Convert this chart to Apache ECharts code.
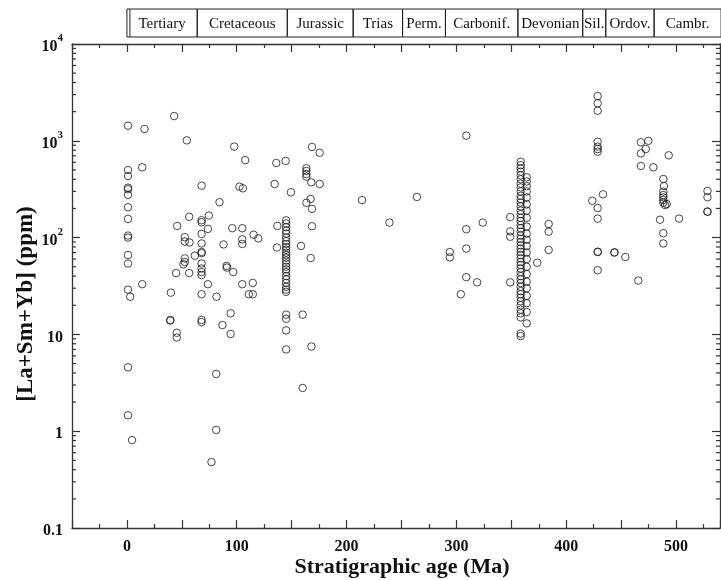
<!DOCTYPE html>
<html>
<head>
<meta charset="utf-8">
<script src="https://cdn.jsdelivr.net/npm/echarts@6/dist/echarts.min.js"></script>
<style>
  html, body { margin: 0; padding: 0; background: #ffffff; }
  #chart { width: 721px; height: 580px; }
</style>
</head>
<body>
<div id="chart"></div>
<script>
// [stratigraphic age (Ma), La+Sm+Yb (ppm)] grouped by period
const tertiary = [
  [1,1432],[1,499],[1,433],[1,328],[1,316],[1,276],[1,206],[1,156],[1,105],[1,100],
  [1,66],[1,54],[1,29],[3,24.5],[1,4.57],[1,1.46],[4.7,0.81],
  [16,1325],[43,1800],[54.5,1010],[13.9,532],[13.9,33],[40,27],[39.4,13.9],[39.6,14.1],
  [45.4,10.4],[45.4,9.3],[45.8,132],[56.7,164],[52.7,101],[52.7,91],[57,89],
  [52.7,61],[52.7,56],[51.5,53],[44.8,43],[56.7,43],[61.8,65]
];
const cretaceous = [
  [97.7,871],[107.7,631],[68,344],[102.5,336],[105.6,323],[84.3,232],[68,151],[68,144],
  [74.6,169],[73.7,123],[95.9,125],[105,125],[68,109],[68,87],[105,96],[105,86],[88,85],
  [68,71],[68,69],[68,54],[68,48],[68,44],[68,41],[90.8,51],[91,49],[96.8,44],[73.7,33],
  [81.6,24.5],[105,33],[111,26],[68,26],[68,14.1],[68,13.4],[94.4,16.5],[87,12.5],
  [94.4,10.1],[81.3,3.9],[81.3,1.03],[77,0.48],[115.3,107],[119.6,98],[114.6,34],
  [114.6,26],[136,590],[134.5,358],[137,132],[136.6,79]
];
const jurassic = [
  [144.5,620],[149.3,294],[168.5,863],[175.5,753],[163.4,520],[163.4,488],[163.4,454],
  [163.4,426],[167.9,372],[175.5,358],[167.3,251],[163.4,229],[168.5,198],[168.5,131],
  [158.5,82],[167.3,61.5],
  [145,151],[145,140],[145,128],[145,118],[145,110],[145,100],[145,92],[145,86],[145,80],
  [145,75],[145,70],[145,66],[145,62],[145,58],[145,54],[145,50],[145,47],[145,44],
  [145,40],[145,37],[145,34],[145,31],[145,29],[145,27.5],[145,16],[145,14.5],[145,11],
  [145,7],[160,16],[160,2.8],[168,7.5]
];
const trias = [[214,244],[239,143],[264,263]];
const carboniferous = [
  [309,1130],[294,71],[294,62.5],[309,122],[324,143],[309,77],[309,39],[318.9,34.5],
  [304,26],[349,163],[349,116],[349,102],[349,34.5]
];
const devonian = [
  [358.5,608],[358.5,560],[358.5,520],[358.5,480],[358.5,440],[358.5,400],[358.5,360],
  [358.5,330],[358.5,300],[358.5,270],[358.5,250],[358.5,230],[358.5,210],[358.5,190],
  [358.5,175],[358.5,160],[358.5,148],[358.5,135],[358.5,125],[358.5,115],[358.5,105],
  [358.5,97],[358.5,90],[358.5,83],[358.5,77],[358.5,71],[358.5,66],[358.5,61],[358.5,56],
  [358.5,52],[358.5,48],[358.5,44],[358.5,40],[358.5,37],[358.5,34],[358.5,31],[358.5,28],
  [358.5,26],[358.5,24],[358.5,22],[358.5,20],[358.5,18],[358.5,16.5],[358.5,15],
  [358.5,10.2],[358.5,9.6],
  [364,420],[364,380],[364,340],[364,300],[364,260],[364,220],[364,190],[364,160],
  [364,130],[364,110],[364,95],[364,82],[364,70],[364,60],[364,50],[364,42],[364,35],
  [364,30],[364,25],[364,21],[364,17],[364,13],
  [373.6,55],[384,138],[384,115],[384,74.5]
];
const silurian = [
  [428.6,2900],[428.6,2440],[428.6,2045],[428.6,977],[428.6,871],[428.6,822],[428.6,771],
  [423.7,240],[433.5,280],[428.6,202],[428.6,157],[428.6,71],[428.8,71.5],[428.6,46]
];
const ordovician = [
  [443.8,70],[444,70.5],[453.8,63],[465.6,36],[468,966],[474.8,1000],[472.4,822],[468,742],
  [493.3,708],[468,550],[479.3,532],[488.4,403],[489,341],[488.4,298],[488.4,275],
  [488.4,261],[488.4,244],[488.4,229],[490,217],[491.5,222],[485.4,153],[502.7,157],
  [488.4,111],[488.4,87]
];
const cambrian = [[528.6,303],[528.6,261],[528.6,185],[528.6,186]];

// Period header cells along the age axis
const periodNames = ['Tertiary','Cretaceous','Jurassic','Trias','Perm.','Carbonif.','Devonian','Sil.','Ordov.','Cambr.'];
const periodBounds = [0, 64, 146, 206, 251, 290, 356, 415, 436, 480, 541];

// Axis extents and labels
const xMin = -50, xMax = 540;
const xLabelValues = [0, 100, 200, 300, 400, 500];
const yMin = 0.1, yMax = 10000;

const allPoints = [].concat(tertiary, cretaceous, jurassic, trias, carboniferous,
  devonian, silurian, ordovician, cambrian);

// minor log ticks at 2..9 within each decade
const minorTicks = [];
for (let d = yMin; d < yMax; d *= 10) {
  for (let k = 2; k <= 9; k++) minorTicks.push([xMin, +(k * d).toPrecision(3)]);
}

const SERIF = '"Liberation Serif", "Times New Roman", serif';
const AXIS_COLOR = '#333333';

function yLabel(v) {
  const e = Math.round(Math.log10(v));
  if (e >= 2) return '{b|10}{s|' + e + '}';
  if (e === 1) return '{b|10}';
  if (e === 0) return '{b|1}';
  return '{b|0.1}';
}

const chart = echarts.init(document.getElementById('chart'), null, { renderer: 'canvas' });

const xAxisBase = {
  type: 'value', min: xMin, max: xMax, interval: 50,
  axisLine: { show: true, onZero: false, lineStyle: { color: AXIS_COLOR, width: 1.3 } },
  axisTick: { show: true, inside: true, length: 8, lineStyle: { color: AXIS_COLOR, width: 1.2 } },
  minorTick: { show: true, splitNumber: 2, length: 4, lineStyle: { color: AXIS_COLOR, width: 1.2 } },
  splitLine: { show: false }
};

const yAxisBase = {
  type: 'log', logBase: 10, min: yMin, max: yMax,
  axisLine: { show: true, onZero: false, lineStyle: { color: AXIS_COLOR, width: 1.3 } },
  axisTick: { show: true, inside: true, length: 8, lineStyle: { color: AXIS_COLOR, width: 1.2 } },
  splitLine: { show: false }
};

chart.setOption({
  animation: false,
  backgroundColor: '#ffffff',
  grid: { left: 72, top: 44, right: 1, bottom: 52 },
  xAxis: [
    Object.assign({}, xAxisBase, {
      position: 'bottom',
      axisLabel: {
        show: true, margin: 11, showMaxLabel: false,
        fontFamily: SERIF, fontWeight: 'bold', fontSize: 16, color: '#111',
        formatter: v => (xLabelValues.indexOf(v) >= 0 ? String(v) : '')
      }
    }),
    Object.assign({}, xAxisBase, { position: 'top', axisLabel: { show: false } })
  ],
  yAxis: [
    Object.assign({}, yAxisBase, {
      position: 'left',
      axisLabel: {
        show: true, margin: 9, formatter: yLabel,
        rich: {
          b: { fontFamily: SERIF, fontWeight: 'bold', fontSize: 16, color: '#111', lineHeight: 22, verticalAlign: 'bottom' },
          s: { fontFamily: SERIF, fontWeight: 'bold', fontSize: 11, color: '#111', lineHeight: 22, verticalAlign: 'top', padding: [0, 0, 6, 0] }
        }
      }
    }),
    Object.assign({}, yAxisBase, { position: 'right', axisLabel: { show: false } })
  ],
  graphic: [
    {
      type: 'text', x: 402, y: 567,
      style: { text: 'Stratigraphic age (Ma)', font: 'bold 22px ' + SERIF, fill: '#111', textAlign: 'center', textVerticalAlign: 'middle' },
      silent: true
    },
    {
      type: 'text', x: 26, y: 304, rotation: Math.PI / 2,
      style: { text: '[La+Sm+Yb] (ppm)', font: 'bold 23px ' + SERIF, fill: '#111', textAlign: 'center', textVerticalAlign: 'middle' },
      silent: true
    }
  ],
  series: [
    {
      type: 'scatter', name: 'samples', data: allPoints,
      xAxisIndex: 0, yAxisIndex: 0,
      symbol: 'circle', symbolSize: 7.5,
      itemStyle: { color: 'rgba(0,0,0,0)', borderColor: '#1a1a1a', borderWidth: 1 },
      emphasis: { disabled: true }, z: 3
    },
    {
      // minor log ticks on both vertical axes
      type: 'custom', xAxisIndex: 0, yAxisIndex: 0, data: minorTicks, clip: false, silent: true, z: 4,
      renderItem: function (params, api) {
        const p = api.coord([api.value(0), api.value(1)]);
        const r = api.coord([xMax, api.value(1)]);
        const ls = { stroke: AXIS_COLOR, lineWidth: 1.2 };
        return {
          type: 'group', children: [
            { type: 'line', shape: { x1: p[0], y1: p[1], x2: p[0] + 4, y2: p[1] }, style: ls },
            { type: 'line', shape: { x1: r[0], y1: r[1], x2: r[0] - 4, y2: r[1] }, style: ls }
          ]
        };
      }
    },
    {
      // period header boxes above the plot
      type: 'custom', xAxisIndex: 0, yAxisIndex: 0, clip: false, silent: true, z: 5,
      data: periodNames.map((n, i) => [periodBounds[i], periodBounds[i + 1], i]),
      renderItem: function (params, api) {
        const i = api.value(2);
        const x0 = api.coord([api.value(0), 1])[0];
        const x1 = api.coord([api.value(1), 1])[0];
        const top = params.coordSys.y - 35;
        const h = 28;
        const ls = { stroke: '#222', lineWidth: 1, fill: null };
        const children = [
          { type: 'rect', shape: { x: x0, y: top, width: x1 - x0, height: h }, style: ls },
          { type: 'text', style: { text: periodNames[i], x: (x0 + x1) / 2, y: top + h / 2 + 1,
              textAlign: 'center', textVerticalAlign: 'middle', font: '15px ' + SERIF, fill: '#111' } }
        ];
        if (i === 0) {
          children.push({ type: 'line', shape: { x1: x0 + 3, y1: top, x2: x0 + 3, y2: top + h }, style: { stroke: '#222', lineWidth: 1 } });
        }
        return { type: 'group', children: children };
      }
    }
  ]
});
</script>
</body>
</html>
